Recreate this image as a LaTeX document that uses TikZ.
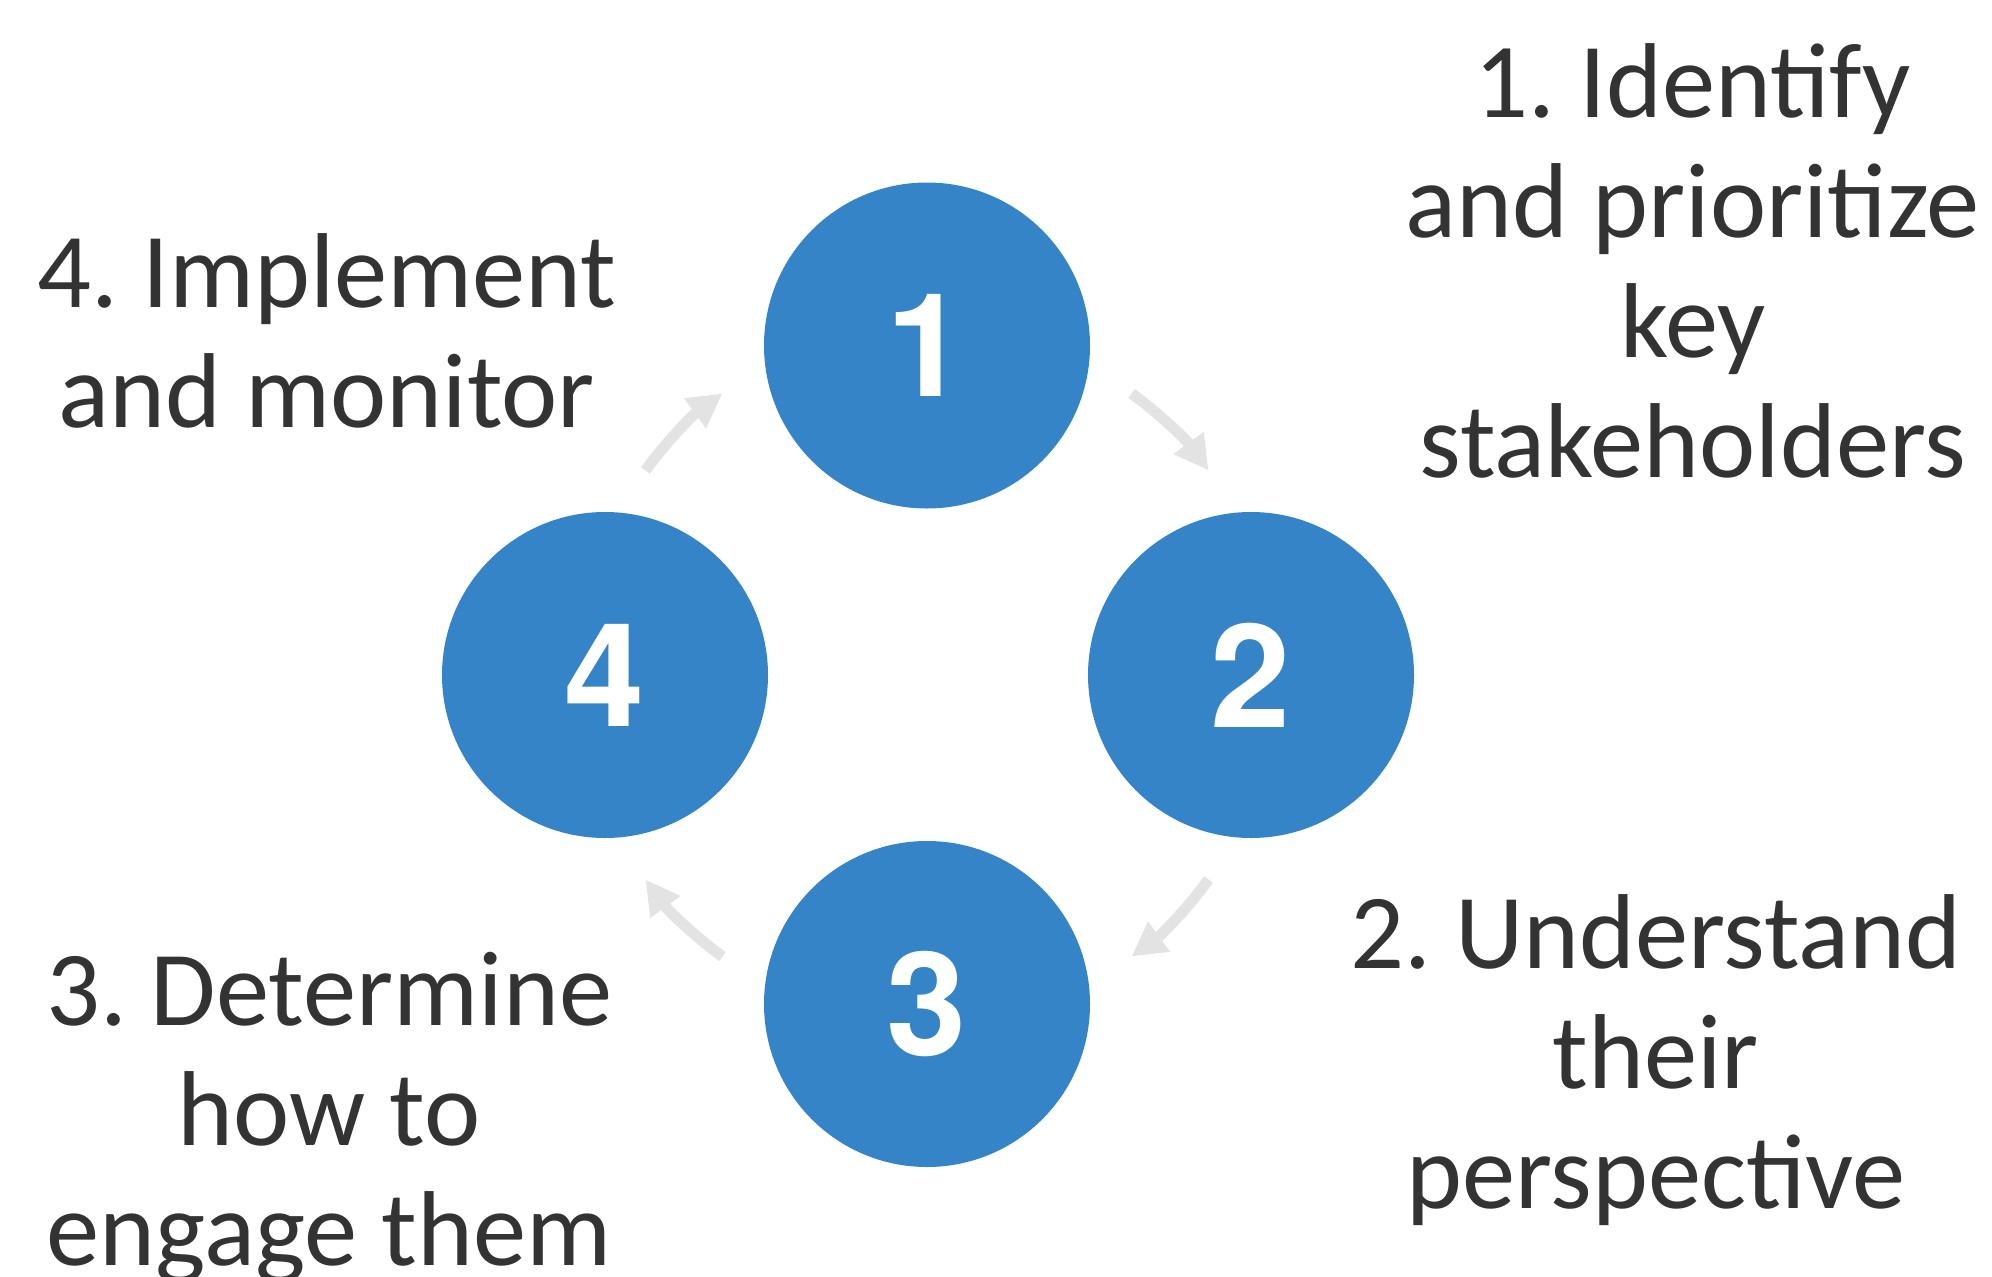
\documentclass[tikz,border=0pt]{standalone}
\usepackage{fontspec}
\setmainfont{Carlito}
\newfontfamily\numfont{TeX Gyre Heros}
\usepackage{tikz}
\usetikzlibrary{arrows.meta,positioning}
\definecolor{stageblue}{RGB}{54,132,200}
\definecolor{labelgray}{RGB}{51,51,51}
\definecolor{arrowgray}{RGB}{227,227,227}
\tikzstyle{stage} = [circle, minimum size=3.26cm, inner sep=0pt, fill=stageblue, text=white, font=\numfont\bfseries\fontsize{41}{41}\selectfont]
\tikzstyle{stagetext} = [align=center, anchor=base, inner sep=0pt, text=labelgray, font=\fontsize{30.3}{34.1}\selectfont]
\tikzstyle{cyclearrow} = [line width=0.11cm, color=arrowgray, -{Triangle[length=0.34cm,width=0.35cm]}]
\frenchspacing

\begin{document}
\begin{tikzpicture}
    \useasboundingbox (0,0) rectangle (19.92,-12.76);
    \clip (0,0) rectangle (19.92,-12.76);
    % Nodes
    \coordinate (hub) at (9.27,-6.75);
    \node[stage] (s1) at (9.27,-3.455) {1};
    \node[stage] (s2) at (12.51,-6.75) {2};
    \node[stage] (s3) at (9.27,-10.04) {3};
    \node[stage] (s4) at (6.05,-6.75) {4};

    \node[stagetext] (t1) at (16.93,-4.77) {1. Identify\\and prioritize\\key\\stakeholders};
    \node[stagetext] (t2) at (16.56,-12.08) {2. Understand\\their\\perspective};
    \node[stagetext] (t3) at (3.29,-12.65) {3. Determine\\how to\\engage them};
    \node[stagetext] (t4) at (3.27,-4.27) {4. Implement\\and monitor};

    % Arrows
    \draw[cyclearrow] ([shift={(54:3.48)}]hub) arc[start angle=54, end angle=36, radius=3.48];
    \draw[cyclearrow] ([shift={(-36:3.48)}]hub) arc[start angle=-36, end angle=-54, radius=3.48];
    \draw[cyclearrow] ([shift={(-126:3.48)}]hub) arc[start angle=-126, end angle=-144, radius=3.48];
    \draw[cyclearrow] ([shift={(144:3.48)}]hub) arc[start angle=144, end angle=126, radius=3.48];
\end{tikzpicture}
\end{document}
